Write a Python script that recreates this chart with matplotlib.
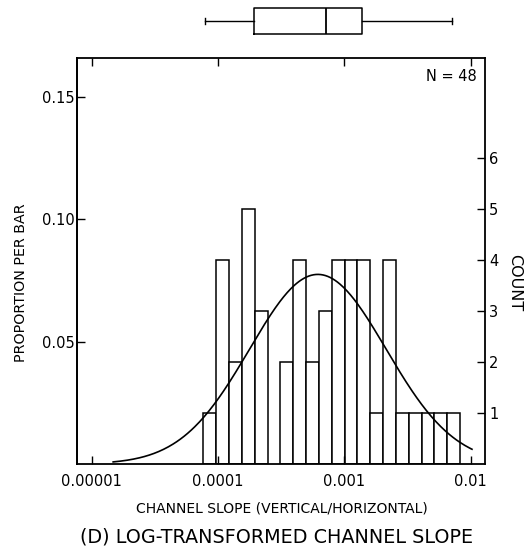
import numpy as np
import matplotlib
matplotlib.use("Agg")
import matplotlib.pyplot as plt
from matplotlib.ticker import FixedLocator, FixedFormatter, NullLocator

# ---- data ----
N = 48
counts = [1, 4, 2, 5, 3, 0, 2, 4, 2, 3, 4, 4, 4, 1, 4, 1, 1, 1, 1, 1]
bin_start_log = -4.116      # log10 of first bin edge
bin_width_log = 0.1016      # log10 bin width
x_ticks = [1e-5, 1e-4, 1e-3, 1e-2]
x_ticklabels = ["0.00001", "0.0001", "0.001", "0.01"]
prop_ticks = [0.05, 0.10, 0.15]
prop_ticklabels = ["0.05", "0.10", "0.15"]
count_ticks = [1, 2, 3, 4, 5, 6]
count_ticklabels = ["1", "2", "3", "4", "5", "6"]
# normal curve fitted on log10 slope
curve_mu = -3.21
curve_sigma = 0.54
curve_peak = 3.72
curve_range = (-4.83, -1.99)
# box plot (values of slope)
box_stats = dict(whislo=7.9e-5, q1=1.93e-4, med=7.16e-4, q3=1.39e-3, whishi=7.08e-3)

plt.rcParams['font.family'] = ['DejaVu Sans']

fig = plt.figure(figsize=(5.3, 5.53), dpi=100)
ax = fig.add_axes([0.1458, 0.1609, 0.7693, 0.7337])

edges = 10 ** (bin_start_log + bin_width_log * np.arange(len(counts) + 1))
for i, c in enumerate(counts):
    if c > 0:
        ax.bar(edges[i], c, width=edges[i + 1] - edges[i], align='edge',
               facecolor='white', edgecolor='black', linewidth=1.1)

xl = np.linspace(curve_range[0], curve_range[1], 300)
yc = curve_peak * np.exp(-0.5 * ((xl - curve_mu) / curve_sigma) ** 2)
ax.plot(10 ** xl, yc, color='black', linewidth=1.2)

ax.set_xscale('log')
ax.set_xlim(10 ** -5.114, 10 ** -1.887)
ax.set_ylim(0, 7.96)
ax.xaxis.set_major_locator(FixedLocator(x_ticks))
ax.xaxis.set_major_formatter(FixedFormatter(x_ticklabels))
ax.xaxis.set_minor_locator(NullLocator())
ax.tick_params(axis='x', which='both', direction='in', top=True, bottom=True,
               length=6, width=1, labelsize=10.5, pad=7)

ax.yaxis.tick_right()
ax.yaxis.set_major_locator(FixedLocator(count_ticks))
ax.yaxis.set_major_formatter(FixedFormatter(count_ticklabels))
ax.tick_params(axis='y', direction='in', length=6, width=1, labelsize=10.5, pad=3)

sec = ax.secondary_yaxis('left', functions=(lambda c: c / N, lambda p: p * N))
sec.yaxis.set_major_locator(FixedLocator(prop_ticks))
sec.yaxis.set_major_formatter(FixedFormatter(prop_ticklabels))
sec.tick_params(axis='y', direction='in', length=6, width=1, labelsize=10.5, pad=2)

for s in ax.spines.values():
    s.set_linewidth(1.3)
sec.spines['left'].set_linewidth(1.3)

ax.text(0.917, 0.956, "N = 48", transform=ax.transAxes, ha='center', va='center',
        fontsize=10.5)

fig.text(21 / 530, 1 - 283 / 553, "PROPORTION PER BAR", rotation=90,
         ha='center', va='center', fontsize=10.3)
fig.text(515 / 530, 1 - 283 / 553, "COUNT", rotation=270,
         ha='center', va='center', fontsize=11.5)
fig.text(282 / 530, 1 - 508 / 553, "CHANNEL SLOPE (VERTICAL/HORIZONTAL)",
         ha='center', va='center', fontsize=10)
fig.text(277 / 530, 1 - 537 / 553, "(D) LOG-TRANSFORMED CHANNEL SLOPE",
         ha='center', va='center', fontsize=13.8)

# box plot on top
axb = fig.add_axes([0.1458, 1 - 42 / 553, 0.7693, 42 / 553])
axb.set_xscale('log')
axb.set_xlim(ax.get_xlim())
axb.set_ylim(0, 1)
axb.bxp([box_stats], positions=[0.5], widths=0.6, orientation='horizontal',
        showfliers=False, showcaps=True,
        boxprops=dict(color='black', linewidth=1.1),
        medianprops=dict(color='black', linewidth=1.3),
        whiskerprops=dict(color='black', linewidth=1.0),
        capprops=dict(color='black', linewidth=1.0), capwidths=0.15)
axb.set_ylim(0, 1)
axb.axis('off')

fig.savefig("out.png", dpi=100, facecolor='white')
